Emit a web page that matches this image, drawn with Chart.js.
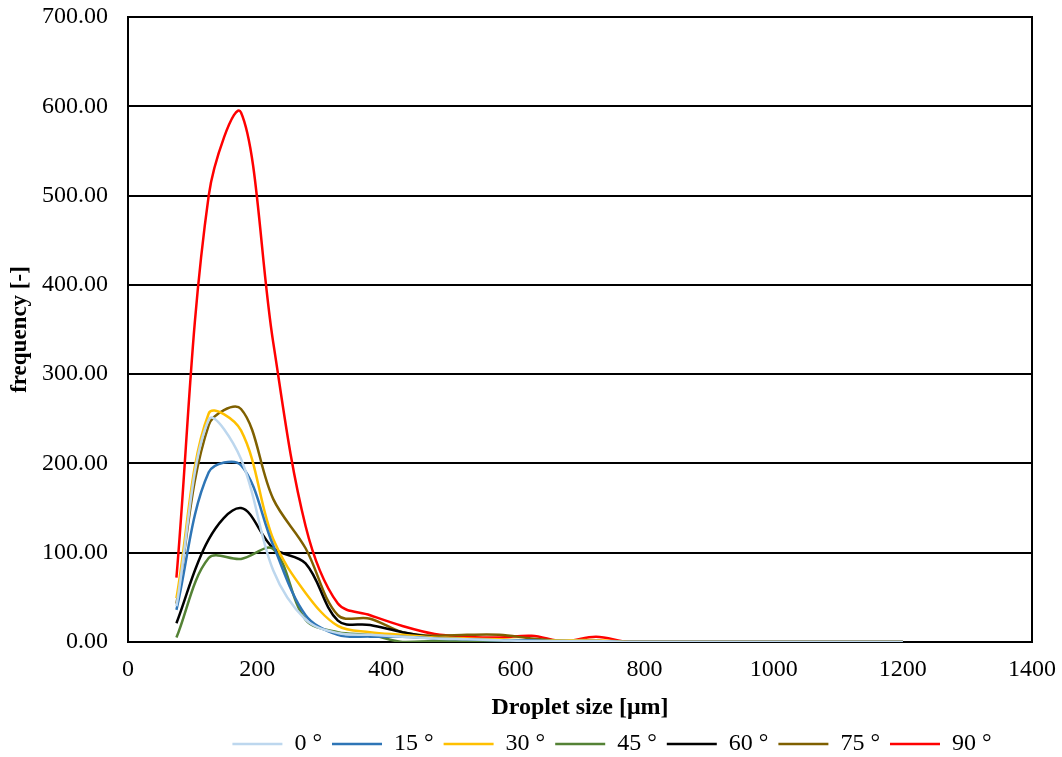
<!DOCTYPE html>
<html>
<head>
<meta charset="utf-8">
<title>Droplet size distribution</title>
<script src="https://cdn.jsdelivr.net/npm/chart.js@4.4.1/dist/chart.umd.min.js"></script>
<style>
    html, body { margin: 0; padding: 0; background: #fff; }
    #wrap { width: 1062px; height: 757px; }
</style>
</head>
<body>
<div id="wrap"><canvas id="sizeChart"></canvas></div>
<script>
// droplet size bins [um]
const sizes = [75, 125, 175, 225, 275, 325, 375, 425, 475, 525, 575, 625,
               675, 725, 775, 825, 875, 925, 975, 1025, 1075, 1125, 1175, 1200];

// frequency per bin, one array per nozzle angle
const deg0  = [40, 249, 205, 80, 25, 10, 8, 6, 4, 3, 2, 1, 1, 1, 0, 0, 0, 0, 0, 0, 0, 0, 0, 0];
const deg15 = [36, 190, 198, 108, 30, 8, 6, 6, 4, 3, 2, 2, 1, 1, 0, 0, 0, 0, 0, 0, 0, 0, 0, 0];
const deg30 = [49, 256, 237, 115, 55, 18, 11, 8, 5, 4, 3, 2, 2, 2, 0, 0, 0, 0, 0, 0, 0, 0, 0, 0];
const deg45 = [5, 94, 93, 104, 25, 11, 8, 0, 1, 1, 1, 0, 0, 0, 0, 0, 0, 0, 0, 0, 0, 0, 0, 0];
const deg60 = [21, 115, 150, 105, 88, 24, 19, 11, 5, 3, 2, 1, 1, 1, 0, 0, 0, 0, 0, 0, 0, 0, 0, 0];
const deg75 = [43, 243, 261, 160, 105, 30, 26, 11, 7, 8, 8, 4, 1, 1, 0, 0, 0, 0, 0, 0, 0, 0, 0, 0];
const deg90 = [72, 500, 593, 335, 130, 43, 30, 18, 9, 6, 5, 7, 1, 6, 0, 0, 0, 0, 0, 0, 0, 0, 0, 0];

const seriesLabels = ['0 \u00b0', '15 \u00b0', '30 \u00b0', '45 \u00b0', '60 \u00b0', '75 \u00b0', '90 \u00b0'];
const seriesValues = [deg0, deg15, deg30, deg45, deg60, deg75, deg90];
const seriesColors = ['#BDD7EE', '#2E75B6', '#FFC000', '#548235', '#000000', '#7F6000', '#FF0000'];

const serif = "'Liberation Serif', 'Times New Roman', serif";

// pair each value with its bin size
function toPoints(values) {
    return values.map((v, i) => ({ x: sizes[i], y: v }));
}

const datasets = seriesValues.map((values, i) => ({
    label: seriesLabels[i],
    data: toPoints(values),
    borderColor: seriesColors[i],
    backgroundColor: seriesColors[i],
    borderWidth: 2.5,
    pointRadius: 0,
    pointStyle: 'line',
    tension: 0.35,
    fill: false
}));

// black frame around the plot area
const frame = {
    id: 'frame',
    beforeDatasetsDraw(chart) {
        const { ctx, chartArea: a } = chart;
        ctx.save();
        ctx.strokeStyle = '#000';
        ctx.lineWidth = 2;
        ctx.strokeRect(a.left, a.top, a.right - a.left, a.bottom - a.top);
        ctx.restore();
    }
};

// nudge the legend row to the right
const legendShift = {
    id: 'legendShift',
    afterLayout(chart) {
        chart.legend.left += 96;
        chart.legend.right += 96;
    }
};

new Chart(document.getElementById('sizeChart'), {
    type: 'line',
    data: { datasets },
    plugins: [frame, legendShift],
    options: {
        responsive: true,
        maintainAspectRatio: false,
        animation: false,
        layout: { padding: { top: 17, right: 30, left: 0, bottom: -9 } },
        plugins: {
            tooltip: { enabled: false },
            legend: {
                position: 'bottom',
                labels: {
                    usePointStyle: true,
                    pointStyleWidth: 50,
                    color: '#000',
                    padding: 10,
                    font: { family: serif, size: 24 }
                }
            }
        },
        scales: {
            x: {
                type: 'linear',
                min: 0,
                max: 1400,
                afterFit(scale) {
                    scale.height = 80;
                    scale.paddingLeft = 0;
                    scale.paddingRight = 0;
                },
                ticks: {
                    stepSize: 200,
                    color: '#000',
                    padding: 13,
                    maxRotation: 0,
                    font: { family: serif, size: 24 },
                    callback: v => String(v)
                },
                grid: { display: false, drawTicks: false },
                border: { display: false },
                title: {
                    display: true,
                    text: 'Droplet size [\u03bcm]',
                    color: '#000',
                    padding: { top: 0, bottom: 0 },
                    font: { family: serif, size: 24, weight: 'bold' }
                }
            },
            y: {
                min: 0,
                max: 700,
                afterFit(scale) {
                    scale.width = 128;
                    scale.paddingTop = 0;
                    scale.paddingBottom = 0;
                },
                ticks: {
                    stepSize: 100,
                    color: '#000',
                    padding: 20,
                    font: { family: serif, size: 24 },
                    callback: v => v.toFixed(2)
                },
                grid: { color: '#000', lineWidth: 2, drawTicks: false },
                border: { display: false },
                title: {
                    display: true,
                    text: 'frequency [-]',
                    color: '#000',
                    padding: { top: 6, bottom: 0 },
                    font: { family: serif, size: 23, weight: 'bold' }
                }
            }
        }
    }
});
</script>
</body>
</html>
